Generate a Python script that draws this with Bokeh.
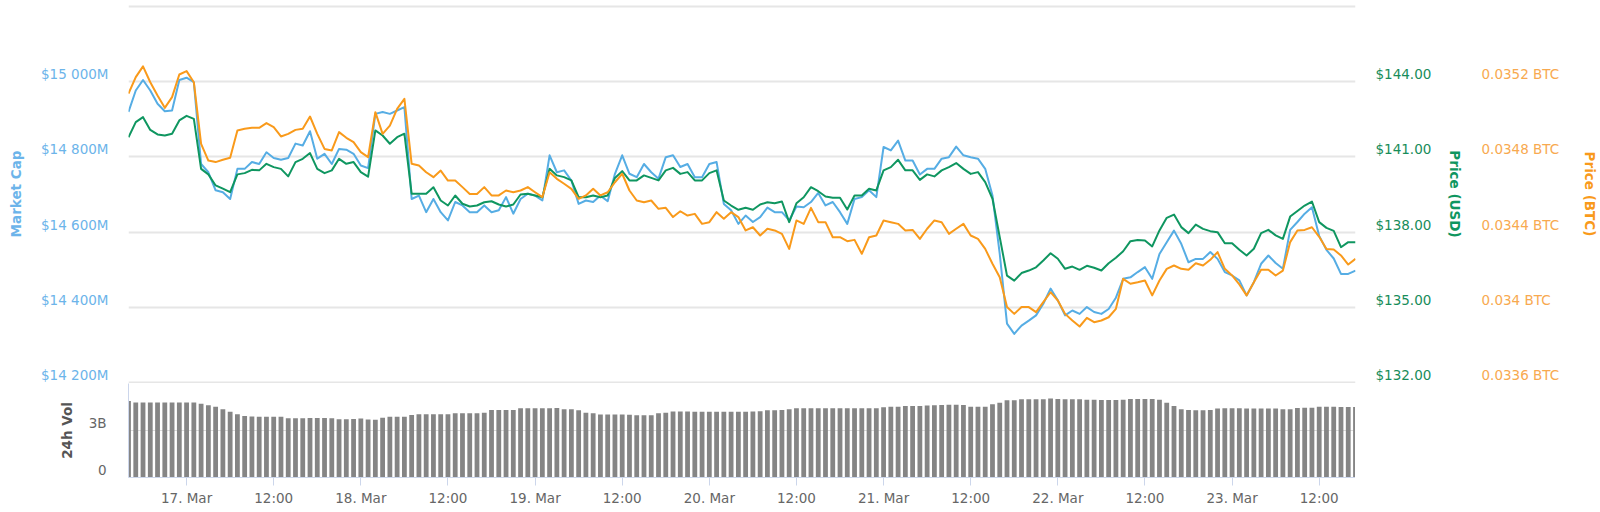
import numpy as np
import pandas as pd
from bokeh.plotting import figure
from bokeh.models import Range1d, LinearAxis, FixedTicker
from bokeh.layouts import column
from bokeh.embed import file_html
from bokeh.resources import INLINE

# ---------------- data (hourly readings, 16 Mar 2019 16:00 -> 23 Mar 17:00) ----------------
start_time = "2019-03-16 16:00"

market_cap_musd = [
    14919, 14976, 15004, 14976, 14941, 14921, 14923, 15004, 15010, 14998,
    14781, 14759, 14711, 14706, 14688, 14768, 14768, 14786, 14781, 14812,
    14797, 14792, 14797, 14835, 14830, 14868, 14795, 14808, 14781, 14821,
    14819, 14808, 14777, 14770, 14914, 14919, 14914, 14923, 14932, 14688,
    14697, 14653, 14688, 14653, 14631, 14680, 14671, 14653, 14653, 14671,
    14653, 14658, 14693, 14649, 14688, 14702, 14697, 14684, 14804, 14759,
    14764, 14737, 14675, 14684, 14680, 14697, 14682, 14755, 14804, 14755,
    14746, 14781, 14759, 14742, 14799, 14804, 14773, 14781, 14746, 14746,
    14781, 14786, 14675, 14658, 14622, 14644, 14627, 14640, 14665, 14653,
    14653, 14631, 14668, 14666, 14680, 14704, 14671, 14680, 14653, 14622,
    14688, 14693, 14711, 14693, 14826, 14817, 14843, 14790, 14790, 14753,
    14768, 14768, 14795, 14799, 14827, 14804, 14799, 14795, 14768, 14697,
    14542, 14357, 14330, 14352, 14365, 14379, 14410, 14450, 14419, 14379,
    14392, 14383, 14401, 14388, 14383, 14396, 14426, 14476, 14480, 14494,
    14507, 14476, 14542, 14573, 14604, 14569, 14520, 14529, 14529, 14547,
    14529, 14494, 14485, 14472, 14432, 14467, 14516, 14538, 14518, 14503,
    14606, 14627, 14649, 14666, 14590, 14553, 14530, 14489, 14489, 14498,
]

price_usd = [
    141.78, 142.38, 142.58, 142.07, 141.89, 141.85, 141.92, 142.45, 142.63, 142.51,
    140.52, 140.30, 139.86, 139.73, 139.59, 140.30, 140.35, 140.48, 140.46, 140.72,
    140.59, 140.52, 140.22, 140.79, 140.92, 141.15, 140.52, 140.35, 140.46, 140.92,
    140.72, 140.79, 140.39, 140.21, 142.05, 141.85, 141.52, 141.78, 141.92, 139.53,
    139.53, 139.53, 139.79, 139.26, 139.06, 139.46, 139.13, 139.02, 139.06, 139.19,
    139.23, 139.10, 139.02, 139.10, 139.50, 139.53, 139.46, 139.39, 140.52, 140.26,
    140.19, 140.06, 139.39, 139.39, 139.46, 139.39, 139.46, 140.16, 140.43, 140.06,
    140.06, 140.26, 140.16, 140.06, 140.46, 140.56, 140.32, 140.39, 140.06, 140.06,
    140.35, 140.46, 139.26, 139.06, 138.89, 138.97, 138.89, 139.10, 139.19, 139.15,
    139.22, 138.40, 139.15, 139.39, 139.79, 139.63, 139.42, 139.37, 139.37, 138.90,
    139.46, 139.46, 139.73, 139.66, 140.46, 140.59, 140.88, 140.46, 140.46, 140.08,
    140.30, 140.22, 140.46, 140.59, 140.75, 140.52, 140.32, 140.39, 139.99, 139.33,
    137.80, 136.27, 136.07, 136.37, 136.47, 136.60, 136.87, 137.16, 136.94, 136.54,
    136.63, 136.50, 136.66, 136.58, 136.47, 136.76, 136.98, 137.24, 137.64, 137.69,
    137.67, 137.43, 138.07, 138.57, 138.70, 138.20, 137.96, 138.30, 138.13, 138.04,
    138.00, 137.56, 137.56, 137.30, 137.07, 137.34, 137.96, 138.09, 137.87, 137.73,
    138.62, 138.84, 139.06, 139.22, 138.40, 138.17, 138.05, 137.40, 137.60, 137.60,
]

price_btc = [
    0.035135, 0.035223, 0.035280, 0.035196, 0.035126, 0.035060, 0.035117, 0.035237, 0.035255, 0.035196,
    0.034869, 0.034780, 0.034772, 0.034784, 0.034795, 0.034940, 0.034949, 0.034954, 0.034954, 0.034979,
    0.034957, 0.034908, 0.034922, 0.034943, 0.034949, 0.035014, 0.034922, 0.034842, 0.034834, 0.034931,
    0.034901, 0.034878, 0.034825, 0.034798, 0.035037, 0.034922, 0.034966, 0.035055, 0.035108, 0.034763,
    0.034754, 0.034718, 0.034692, 0.034727, 0.034674, 0.034674, 0.034639, 0.034603, 0.034603, 0.034639,
    0.034595, 0.034595, 0.034621, 0.034612, 0.034621, 0.034639, 0.034612, 0.034586, 0.034718, 0.034683,
    0.034657, 0.034630, 0.034577, 0.034595, 0.034630, 0.034595, 0.034612, 0.034665, 0.034710, 0.034621,
    0.034568, 0.034559, 0.034568, 0.034524, 0.034529, 0.034480, 0.034511, 0.034488, 0.034497, 0.034444,
    0.034453, 0.034506, 0.034471, 0.034506, 0.034480, 0.034409, 0.034426, 0.034382, 0.034418, 0.034409,
    0.034391, 0.034311, 0.034462, 0.034444, 0.034529, 0.034453, 0.034453, 0.034373, 0.034373, 0.034352,
    0.034359, 0.034285, 0.034373, 0.034382, 0.034462, 0.034453, 0.034444, 0.034409, 0.034412, 0.034364,
    0.034418, 0.034462, 0.034453, 0.034391, 0.034418, 0.034444, 0.034382, 0.034364, 0.034311, 0.034232,
    0.034161, 0.034002, 0.033966, 0.034002, 0.034002, 0.033975, 0.034028, 0.034081, 0.034037, 0.033966,
    0.033931, 0.033899, 0.033945, 0.033922, 0.033931, 0.033948, 0.033993, 0.034152, 0.034126, 0.034134,
    0.034143, 0.034064, 0.034143, 0.034205, 0.034223, 0.034205, 0.034200, 0.034235, 0.034223, 0.034253,
    0.034294, 0.034205, 0.034170, 0.034122, 0.034064, 0.034134, 0.034200, 0.034200, 0.034170, 0.034196,
    0.034347, 0.034409, 0.034412, 0.034426, 0.034375, 0.034311, 0.034308, 0.034276, 0.034228, 0.034258,
]

volume_24h_busd = [
    4.885, 4.78, 4.78, 4.78, 4.78, 4.78, 4.78, 4.78, 4.78, 4.78,
    4.71, 4.61, 4.52, 4.355, 4.19, 4.04, 3.93, 3.89, 3.87, 3.87,
    3.87, 3.87, 3.78, 3.78, 3.78, 3.80, 3.80, 3.80, 3.78, 3.72,
    3.72, 3.74, 3.76, 3.70, 3.68, 3.82, 3.87, 3.87, 3.87, 3.99,
    4.04, 4.04, 4.04, 4.04, 4.04, 4.10, 4.10, 4.10, 4.10, 4.14,
    4.31, 4.31, 4.31, 4.31, 4.42, 4.42, 4.42, 4.42, 4.42, 4.44,
    4.355, 4.355, 4.29, 4.14, 4.10, 4.02, 4.02, 4.02, 4.02, 4.00,
    3.97, 3.97, 3.97, 4.10, 4.14, 4.21, 4.21, 4.21, 4.19, 4.19,
    4.19, 4.19, 4.19, 4.19, 4.19, 4.19, 4.21, 4.23, 4.29, 4.29,
    4.31, 4.355, 4.42, 4.42, 4.42, 4.42, 4.42, 4.42, 4.42, 4.42,
    4.42, 4.42, 4.42, 4.42, 4.48, 4.52, 4.52, 4.57, 4.57, 4.57,
    4.59, 4.61, 4.63, 4.65, 4.65, 4.63, 4.52, 4.52, 4.52, 4.67,
    4.77, 4.93, 4.93, 4.99, 4.99, 4.99, 4.99, 5.05, 5.01, 4.99,
    4.99, 4.99, 4.97, 4.97, 4.95, 4.95, 4.95, 4.97, 5.01, 5.01,
    5.01, 5.01, 4.97, 4.77, 4.56, 4.36, 4.31, 4.29, 4.29, 4.31,
    4.40, 4.42, 4.42, 4.42, 4.40, 4.40, 4.40, 4.40, 4.40, 4.36,
    4.36, 4.44, 4.46, 4.46, 4.52, 4.52, 4.52, 4.50, 4.50, 4.50,
]

mc_grid = [14200, 14400, 14600, 14800, 15000, 15200]
mc_ticks = [14200, 14400, 14600, 14800, 15000]
mc_labels = ["$14 200M", "$14 400M", "$14 600M", "$14 800M", "$15 000M"]
usd_ticks = [132, 135, 138, 141, 144]
usd_labels = ["$132.00", "$135.00", "$138.00", "$141.00", "$144.00"]
btc_ticks = [0.0336, 0.0340, 0.0344, 0.0348, 0.0352]
btc_labels = ["0.0336 BTC", "0.034 BTC", "0.0344 BTC", "0.0348 BTC", "0.0352 BTC"]
vol_ticks = [0, 3]
vol_labels = ["0", "3B"]
x_first_tick = "2019-03-17 00:00"
x_tick_labels = ["17. Mar", "12:00", "18. Mar", "12:00", "19. Mar", "12:00", "20. Mar",
                 "12:00", "21. Mar", "12:00", "22. Mar", "12:00", "23. Mar", "12:00"]

# ---------------- style / geometry ----------------
FONT = "DejaVu Sans"
BLUE, GREEN, ORANGE = "#56ade4", "#0f9660", "#f99a1b"
BLUE_TXT, GREEN_TXT, ORANGE_TXT = "#6cb4ea", "#178c5a", "#f8a94f"
GRID = "#e6e6e6"
AXIS = "#ccd6eb"
FRAME_W, MAIN_H, VOL_H = 1227, 379, 94
LEFT = 128
PX_PER_STEP = 75.33          # pixels per 200M gridline step
LIFT = 7.5                   # tick labels sit slightly above their grid line

mc_lo = 14200 - 0.7 * 200 / PX_PER_STEP
mc_hi = mc_lo + MAIN_H * 200 / PX_PER_STEP


def to_usd(m):
    return 132 + (m - 14200) * (3 / 200)


def to_btc(m):
    return 0.0336 + (m - 14200) * (0.0004 / 200)


def lifted(ticks, labels, span, frame_h):
    d = LIFT * span / frame_h
    pos = [t + d for t in ticks]
    return FixedTicker(ticks=pos), dict(zip(pos, labels))


times = pd.Timestamp(start_time) + pd.to_timedelta(np.arange(len(market_cap_musd)), unit="h")
tick_times = pd.date_range(x_first_tick, periods=len(x_tick_labels), freq="12h")
tick_ms = [int(t.value // 10**6) for t in tick_times]

x_range = Range1d(times[0], times[-1])

# ---------------- main panel ----------------
p = figure(frame_width=FRAME_W, frame_height=MAIN_H, x_axis_type="datetime",
           x_axis_location=None, x_range=x_range, y_range=Range1d(mc_lo, mc_hi),
           toolbar_location=None, output_backend="svg",
           min_border_left=LEFT, min_border_right=0, min_border_top=4, min_border_bottom=0,
           outline_line_color=None, background_fill_color="white")
p.extra_y_ranges = {"usd": Range1d(to_usd(mc_lo), to_usd(mc_hi)),
                    "btc": Range1d(to_btc(mc_lo), to_btc(mc_hi))}

p.xgrid.visible = False
p.ygrid.ticker = FixedTicker(ticks=mc_grid)
p.ygrid.grid_line_color = GRID
p.ygrid.grid_line_width = 2


def style_axis(ax, color, title, title_color, standoff, title_standoff):
    ax.axis_line_color = None
    ax.major_tick_line_color = None
    ax.minor_tick_line_color = None
    ax.major_tick_out = 0
    ax.major_tick_in = 0
    ax.major_label_standoff = standoff
    ax.major_label_text_font = FONT
    ax.major_label_text_font_size = "13.5px"
    ax.major_label_text_color = color
    ax.axis_label = title
    ax.axis_label_text_font = FONT
    ax.axis_label_text_font_size = "13.5px"
    ax.axis_label_text_font_style = "bold"
    ax.axis_label_text_color = title_color
    ax.axis_label_standoff = title_standoff


ax_mc = p.yaxis[0]
tk, ov = lifted(mc_ticks, mc_labels, mc_hi - mc_lo, MAIN_H)
ax_mc.ticker = tk
ax_mc.major_label_overrides = ov
style_axis(ax_mc, BLUE_TXT, "Market Cap", BLUE_TXT, 20, 14)

tk, ov = lifted(usd_ticks, usd_labels, to_usd(mc_hi) - to_usd(mc_lo), MAIN_H)
ax_usd = LinearAxis(y_range_name="usd", ticker=tk, major_label_overrides=ov)
style_axis(ax_usd, GREEN_TXT, "Price (USD)", GREEN, 20, 13)
p.add_layout(ax_usd, "right")

tk, ov = lifted(btc_ticks, btc_labels, to_btc(mc_hi) - to_btc(mc_lo), MAIN_H)
ax_btc = LinearAxis(y_range_name="btc", ticker=tk, major_label_overrides=ov)
style_axis(ax_btc, ORANGE_TXT, "Price (BTC)", ORANGE, 15, 20)
p.add_layout(ax_btc, "right")

p.line(times, market_cap_musd, line_color=BLUE, line_width=2, line_join="round")
p.line(times, price_usd, line_color=GREEN, line_width=2, line_join="round", y_range_name="usd")
p.line(times, price_btc, line_color=ORANGE, line_width=2, line_join="round", y_range_name="btc")

# ---------------- volume panel ----------------
v = figure(frame_width=FRAME_W, frame_height=VOL_H, x_axis_type="datetime",
           x_range=x_range, y_range=Range1d(0, 6),
           toolbar_location=None, output_backend="svg",
           min_border_left=LEFT, min_border_right=0, min_border_top=0, min_border_bottom=0,
           outline_line_color=None, background_fill_color="white")
v.xgrid.visible = False
v.ygrid.ticker = FixedTicker(ticks=[3])
v.ygrid.grid_line_color = "#dcdcdc"
v.ygrid.grid_line_width = 1

v.vbar(x=times, top=volume_24h_busd, width=0.66 * 3600 * 1000,
       fill_color="#858585", line_color=None)

ax_v = v.yaxis[0]
tk, ov = lifted(vol_ticks, vol_labels, 6, VOL_H)
ax_v.ticker = tk
ax_v.major_label_overrides = ov
style_axis(ax_v, "#666666", "24h Vol", "#555555", 22, 11)
ax_v.axis_line_color = AXIS

ax_x = v.xaxis[0]
ax_x.ticker = FixedTicker(ticks=tick_ms)
ax_x.major_label_overrides = dict(zip(tick_ms, x_tick_labels))
ax_x.axis_line_color = AXIS
ax_x.major_tick_line_color = AXIS
ax_x.minor_tick_line_color = None
ax_x.major_tick_out = 8
ax_x.major_tick_in = 0
ax_x.major_label_standoff = 4
ax_x.major_label_text_font = FONT
ax_x.major_label_text_font_size = "13.5px"
ax_x.major_label_text_color = "#666666"

layout = column(p, v, spacing=0)
open("out.html", "w").write(file_html(layout, INLINE))
